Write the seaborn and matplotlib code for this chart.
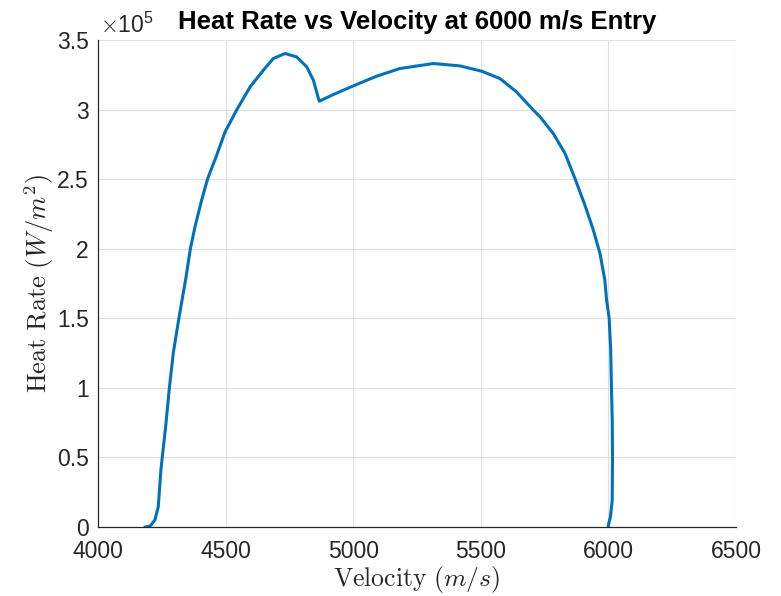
import matplotlib
matplotlib.use("Agg")
import matplotlib.pyplot as plt
import seaborn as sns
import pandas as pd
from matplotlib.ticker import FuncFormatter

# Entry trajectory, in flight order (starting at the 6000 m/s entry point)
velocity = [6000, 6000, 6008, 6015, 6016, 6015, 6012, 6009, 6003, 5993,
            5986, 5967, 5941, 5908, 5869, 5830, 5784, 5732, 5706, 5640,
            5575, 5503, 5418, 5314, 5183, 5092, 5000, 4922, 4867, 4863,
            4844, 4818, 4778, 4733, 4687, 4648, 4596, 4543, 4498, 4465,
            4430, 4406, 4380, 4362, 4343, 4317, 4295, 4280, 4265, 4247,
            4236, 4223, 4204, 4184]
heat_rate = [0, 1400, 7400, 19400, 50000, 76900, 100000, 127000, 150000, 163100,
             177400, 196600, 213400, 231300, 250500, 268500, 282800, 294800, 299600, 312700,
             322300, 327600, 331400, 333100, 329500, 324000, 317000, 310800, 306000, 308500,
             321100, 330700, 337900, 340300, 336700, 328300, 316300, 299600, 284000, 267200,
             250500, 234900, 215700, 200000, 177400, 150100, 125000, 100500, 72000, 42000,
             14400, 5000, 700, 0]

x_ticks = [4000, 4500, 5000, 5500, 6000, 6500]
y_ticks = [0, 50000, 100000, 150000, 200000, 250000, 300000, 350000]

sns.set_theme(style="whitegrid")
plt.rcParams['font.family'] = ['Liberation Sans', 'DejaVu Sans']
plt.rcParams['mathtext.fontset'] = 'cm'

fig = plt.figure(figsize=(7.81, 5.96), dpi=100)
ax = fig.add_axes([98 / 781, 69 / 596, 638 / 781, 487 / 596])

df = pd.DataFrame({"Velocity": velocity, "HeatRate": heat_rate})
sns.lineplot(data=df, x="Velocity", y="HeatRate", sort=False, estimator=None,
             color="#0072BD", linewidth=2.2, ax=ax)

ax.set_xlim(4000, 6500)
ax.set_ylim(0, 350000)
ax.set_xticks(x_ticks)
ax.set_yticks(y_ticks)
ax.yaxis.set_major_formatter(FuncFormatter(lambda v, _: f"{v / 1e5:g}"))

ax.grid(True, color="#e0e0e0", linewidth=0.8)
for side in ("top", "right"):
    ax.spines[side].set_visible(False)
for side in ("left", "bottom"):
    ax.spines[side].set_color("#262626")
    ax.spines[side].set_linewidth(0.9)
ax.tick_params(direction="in", length=4, width=0.8, colors="#262626",
               labelsize=16.5)
ax.tick_params(axis="y", pad=6.5)
ax.tick_params(axis="x", pad=9)

ax.set_xlabel(r"$\mathrm{Velocity}\ (m/s)$", fontsize=18.5, color="#262626", labelpad=1)
ax.set_ylabel(r"$\mathrm{Heat\ Rate}\ (W/m^2)$", fontsize=19, color="#262626", labelpad=1)
ax.set_title("Heat Rate vs Velocity at 6000 m/s Entry", fontweight="bold",
             fontsize=18.5, color="black", pad=8)

ax.text(0.003, 1 + 7 / 487, r"$\times\mathregular{10^{5}}$", transform=ax.transAxes,
        ha="left", va="baseline", fontsize=16.5, color="#262626")

fig.savefig("out.png", dpi=100, facecolor="white")
